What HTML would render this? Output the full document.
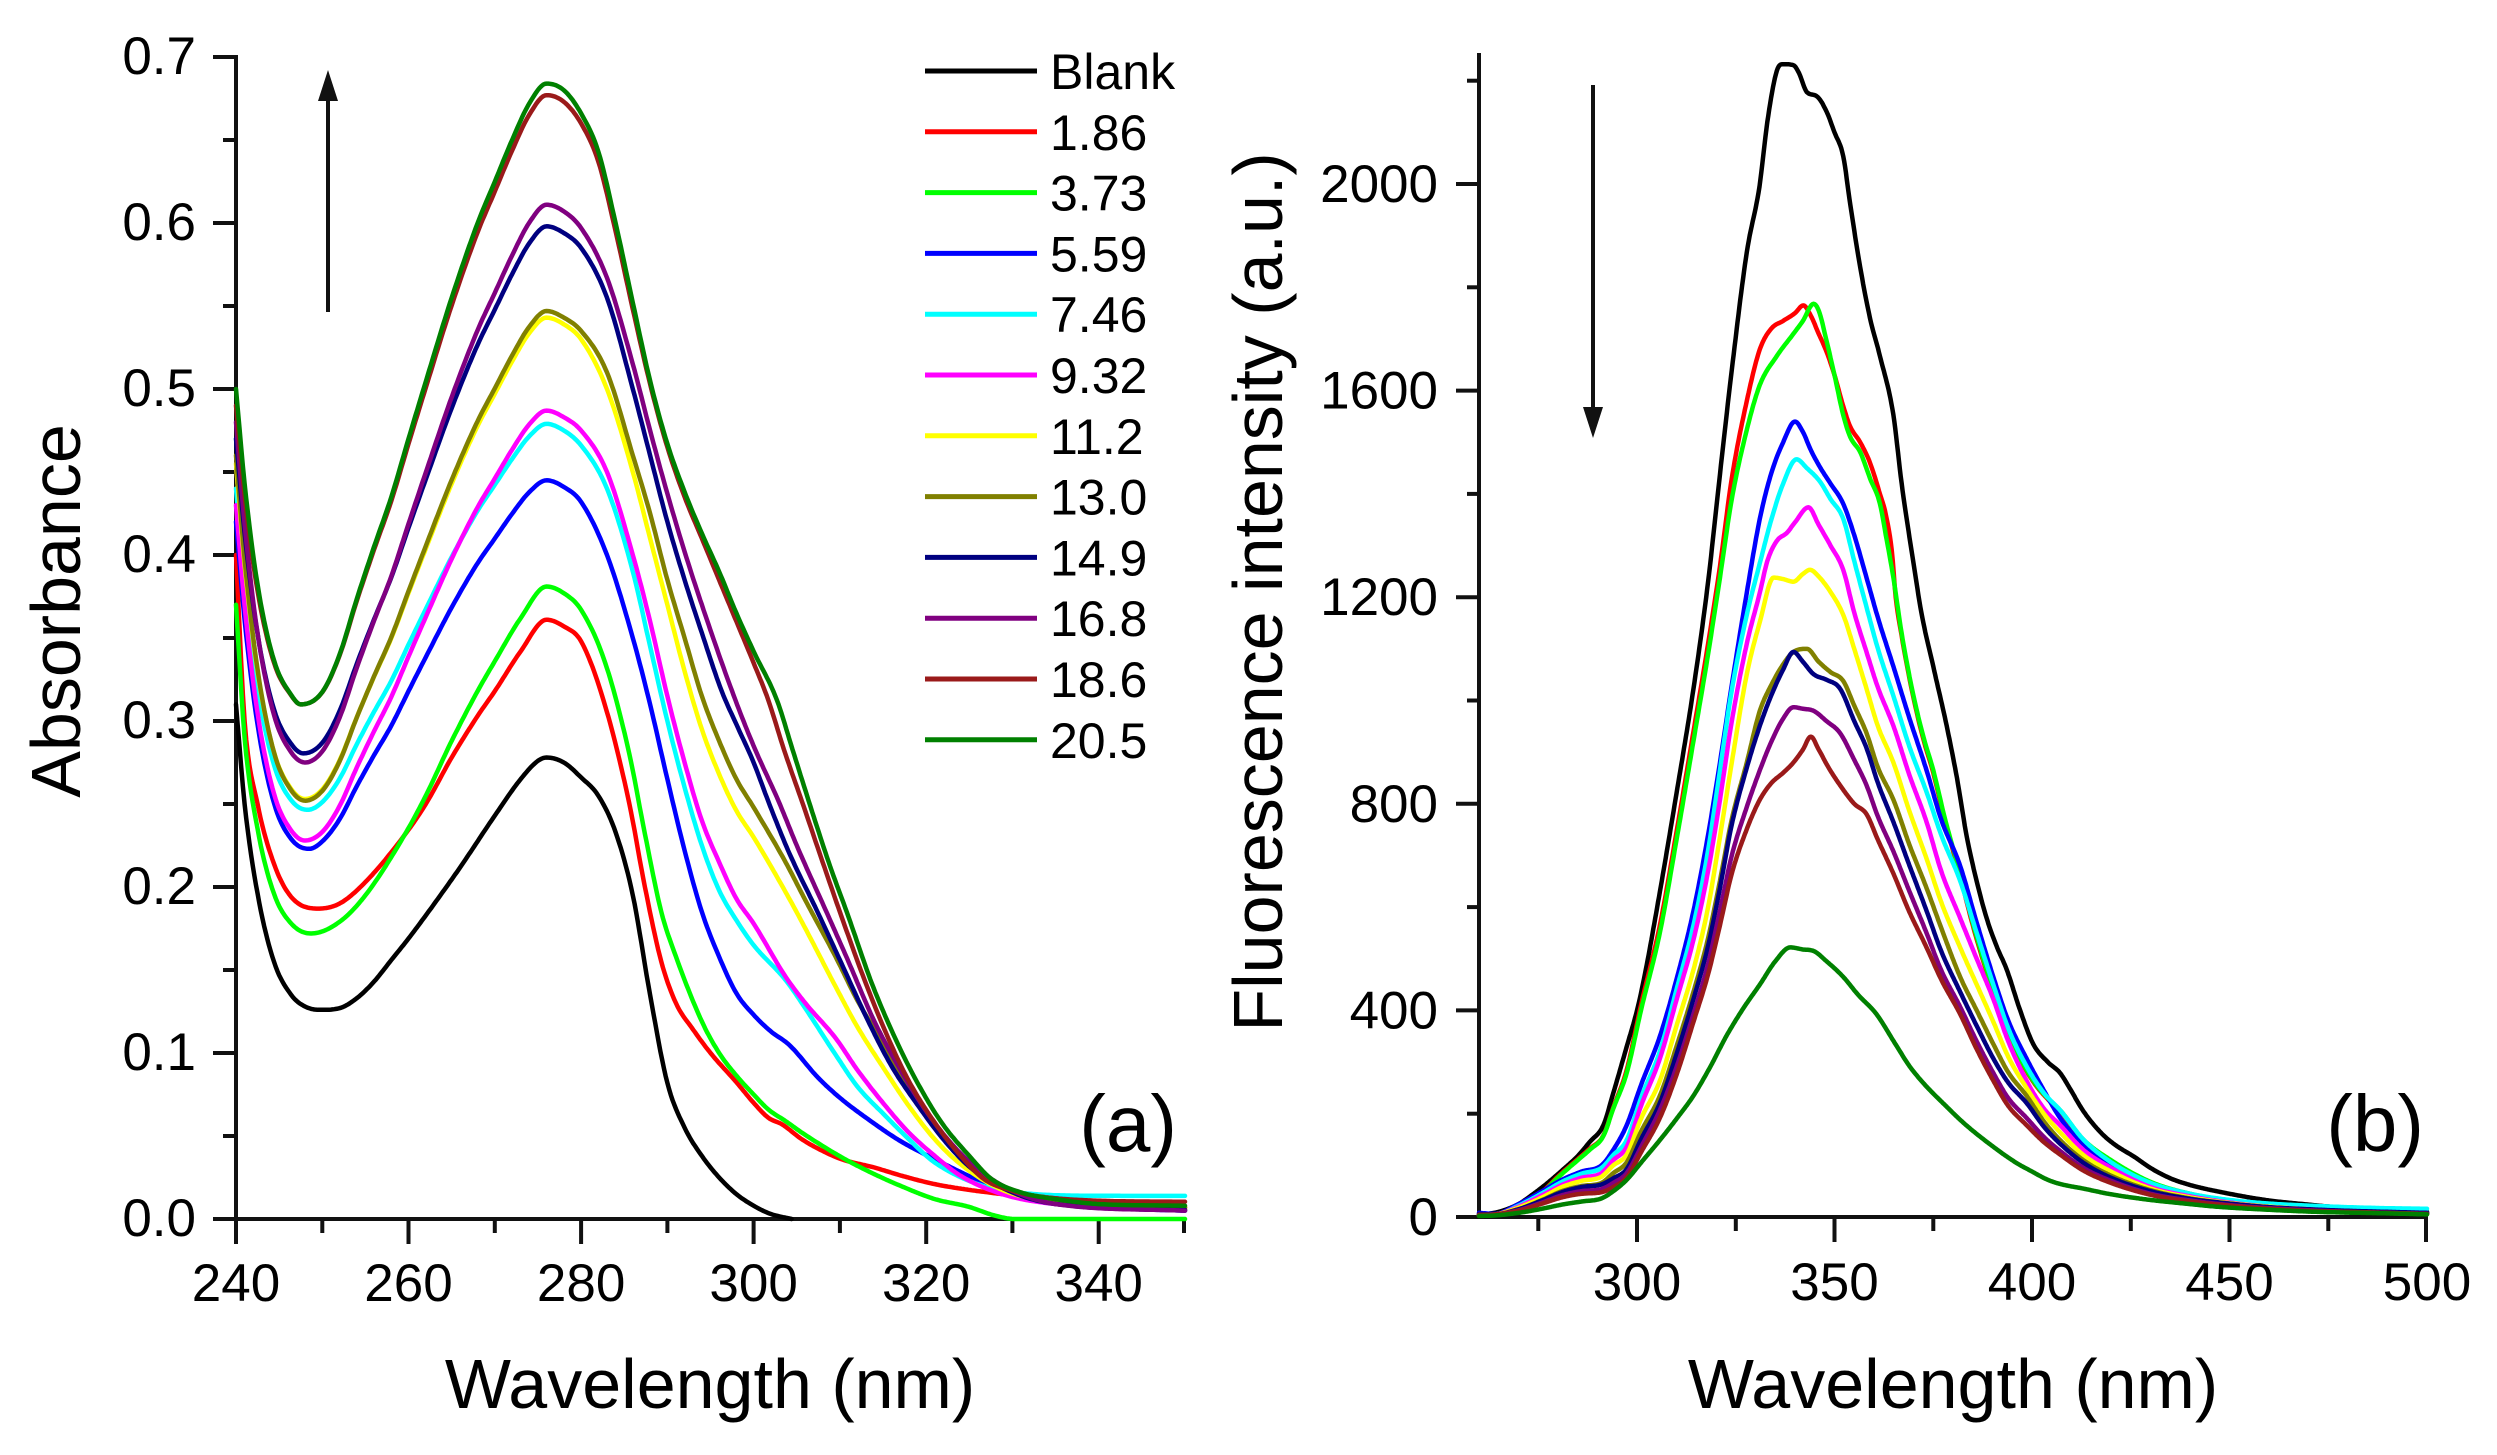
<!DOCTYPE html>
<html>
<head>
<meta charset="utf-8">
<style>
html,body{margin:0;padding:0;background:#fff;}
svg{display:block;}
text{font-family:"Liberation Sans",Arial,sans-serif;fill:#000;}
</style>
</head>
<body>
<svg id="s" width="2497" height="1455" viewBox="0 0 2497 1455" xmlns="http://www.w3.org/2000/svg">
<rect width="2497" height="1455" fill="#fff"/>

<!-- ===== Panel (a) axes ===== -->
<g stroke="#111" stroke-width="4" fill="none" stroke-linecap="butt">
  <line x1="236" y1="55" x2="236" y2="1221"/>
  <line x1="213" y1="1219" x2="1186" y2="1219"/>
  <!-- y major -->
  <line x1="213" y1="1053" x2="236" y2="1053"/>
  <line x1="213" y1="887" x2="236" y2="887"/>
  <line x1="213" y1="721" x2="236" y2="721"/>
  <line x1="213" y1="555" x2="236" y2="555"/>
  <line x1="213" y1="389" x2="236" y2="389"/>
  <line x1="213" y1="223" x2="236" y2="223"/>
  <line x1="213" y1="57" x2="236" y2="57"/>
  <!-- y minor -->
  <line x1="223" y1="1136" x2="236" y2="1136"/>
  <line x1="223" y1="970" x2="236" y2="970"/>
  <line x1="223" y1="804" x2="236" y2="804"/>
  <line x1="223" y1="638" x2="236" y2="638"/>
  <line x1="223" y1="472" x2="236" y2="472"/>
  <line x1="223" y1="306" x2="236" y2="306"/>
  <line x1="223" y1="140" x2="236" y2="140"/>
  <!-- x major -->
  <line x1="236" y1="1219" x2="236" y2="1244"/>
  <line x1="408.5" y1="1219" x2="408.5" y2="1244"/>
  <line x1="581.1" y1="1219" x2="581.1" y2="1244"/>
  <line x1="753.6" y1="1219" x2="753.6" y2="1244"/>
  <line x1="926.2" y1="1219" x2="926.2" y2="1244"/>
  <line x1="1098.7" y1="1219" x2="1098.7" y2="1244"/>
  <!-- x minor -->
  <line x1="322.3" y1="1219" x2="322.3" y2="1233"/>
  <line x1="494.8" y1="1219" x2="494.8" y2="1233"/>
  <line x1="667.4" y1="1219" x2="667.4" y2="1233"/>
  <line x1="839.9" y1="1219" x2="839.9" y2="1233"/>
  <line x1="1012.4" y1="1219" x2="1012.4" y2="1233"/>
  <line x1="1184" y1="1219" x2="1184" y2="1233"/>
</g>
<g font-size="53" text-anchor="end">
  <text x="196" y="1236">0.0</text>
  <text x="196" y="1070">0.1</text>
  <text x="196" y="904">0.2</text>
  <text x="196" y="738">0.3</text>
  <text x="196" y="572">0.4</text>
  <text x="196" y="406">0.5</text>
  <text x="196" y="240">0.6</text>
  <text x="196" y="74">0.7</text>
</g>
<g font-size="53" text-anchor="middle">
  <text x="236" y="1301">240</text>
  <text x="408.5" y="1301">260</text>
  <text x="581.1" y="1301">280</text>
  <text x="753.6" y="1301">300</text>
  <text x="926.2" y="1301">320</text>
  <text x="1098.7" y="1301">340</text>
</g>
<text x="710" y="1408" font-size="70" text-anchor="middle">Wavelength (nm)</text>
<text transform="translate(80,611) rotate(-90)" font-size="70" text-anchor="middle">Absorbance</text>
<text x="1177" y="1151" font-size="80" text-anchor="end">(a)</text>

<!-- up arrow -->
<line x1="328" y1="312" x2="328" y2="95" stroke="#111" stroke-width="4"/>
<polygon points="328,70 318,101 338,101" fill="#111"/>

<!-- legend -->
<g stroke-width="5" fill="none">
  <line x1="925" y1="71" x2="1037" y2="71" stroke="#000000"/>
  <line x1="925" y1="131.8" x2="1037" y2="131.8" stroke="#FF0000"/>
  <line x1="925" y1="192.6" x2="1037" y2="192.6" stroke="#00FF00"/>
  <line x1="925" y1="253.4" x2="1037" y2="253.4" stroke="#0000FF"/>
  <line x1="925" y1="314.2" x2="1037" y2="314.2" stroke="#00FFFF"/>
  <line x1="925" y1="375" x2="1037" y2="375" stroke="#FF00FF"/>
  <line x1="925" y1="435.8" x2="1037" y2="435.8" stroke="#FFFF00"/>
  <line x1="925" y1="496.6" x2="1037" y2="496.6" stroke="#808000"/>
  <line x1="925" y1="557.4" x2="1037" y2="557.4" stroke="#000080"/>
  <line x1="925" y1="618.2" x2="1037" y2="618.2" stroke="#800080"/>
  <line x1="925" y1="679" x2="1037" y2="679" stroke="#9A1A1A"/>
  <line x1="925" y1="739.8" x2="1037" y2="739.8" stroke="#008000"/>
</g>
<g font-size="50">
  <text x="1050" y="89">Blank</text>
  <text x="1050" y="149.8">1.86</text>
  <text x="1050" y="210.6">3.73</text>
  <text x="1050" y="271.4">5.59</text>
  <text x="1050" y="332.2">7.46</text>
  <text x="1050" y="393">9.32</text>
  <text x="1050" y="453.8">11.2</text>
  <text x="1050" y="514.6">13.0</text>
  <text x="1050" y="575.4">14.9</text>
  <text x="1050" y="636.2">16.8</text>
  <text x="1050" y="697">18.6</text>
  <text x="1050" y="757.8">20.5</text>
</g>

<g id="curvesA" fill="none" stroke-width="4.5" stroke-linejoin="round" stroke-linecap="round"></g>

<!-- ===== Panel (b) axes ===== -->
<g stroke="#111" stroke-width="4" fill="none">
  <line x1="1479" y1="53" x2="1479" y2="1219"/>
  <line x1="1456" y1="1217" x2="2428" y2="1217"/>
  <!-- y major -->
  <line x1="1456" y1="1010.4" x2="1479" y2="1010.4"/>
  <line x1="1456" y1="803.8" x2="1479" y2="803.8"/>
  <line x1="1456" y1="597.2" x2="1479" y2="597.2"/>
  <line x1="1456" y1="390.6" x2="1479" y2="390.6"/>
  <line x1="1456" y1="184" x2="1479" y2="184"/>
  <!-- y minor -->
  <line x1="1467" y1="1113.7" x2="1479" y2="1113.7"/>
  <line x1="1467" y1="907.1" x2="1479" y2="907.1"/>
  <line x1="1467" y1="700.5" x2="1479" y2="700.5"/>
  <line x1="1467" y1="493.9" x2="1479" y2="493.9"/>
  <line x1="1467" y1="287.3" x2="1479" y2="287.3"/>
  <line x1="1467" y1="80.7" x2="1479" y2="80.7"/>
  <!-- x major -->
  <line x1="1637" y1="1217" x2="1637" y2="1242"/>
  <line x1="1834.5" y1="1217" x2="1834.5" y2="1242"/>
  <line x1="2032" y1="1217" x2="2032" y2="1242"/>
  <line x1="2229.5" y1="1217" x2="2229.5" y2="1242"/>
  <line x1="2426" y1="1217" x2="2426" y2="1242"/>
  <!-- x minor -->
  <line x1="1538.3" y1="1217" x2="1538.3" y2="1231"/>
  <line x1="1735.8" y1="1217" x2="1735.8" y2="1231"/>
  <line x1="1933.3" y1="1217" x2="1933.3" y2="1231"/>
  <line x1="2130.8" y1="1217" x2="2130.8" y2="1231"/>
  <line x1="2328.3" y1="1217" x2="2328.3" y2="1231"/>
</g>
<g font-size="53" text-anchor="end">
  <text x="1438" y="1235">0</text>
  <text x="1438" y="1028.4">400</text>
  <text x="1438" y="821.8">800</text>
  <text x="1438" y="615.2">1200</text>
  <text x="1438" y="408.6">1600</text>
  <text x="1438" y="202">2000</text>
</g>
<g font-size="53" text-anchor="middle">
  <text x="1637" y="1300">300</text>
  <text x="1834.5" y="1300">350</text>
  <text x="2032" y="1300">400</text>
  <text x="2229.5" y="1300">450</text>
  <text x="2427" y="1300">500</text>
</g>
<text x="1953" y="1408" font-size="70" text-anchor="middle">Wavelength (nm)</text>
<text transform="translate(1282,592) rotate(-90)" font-size="70" text-anchor="middle">Fluorescence intensity (a.u.)</text>
<text x="2424" y="1151" font-size="80" text-anchor="end">(b)</text>

<!-- down arrow -->
<line x1="1593" y1="85" x2="1593" y2="412" stroke="#111" stroke-width="4"/>
<polygon points="1593,438 1583,407 1603,407" fill="#111"/>

<g id="curvesF" fill="none" stroke-width="4.5" stroke-linejoin="round" stroke-linecap="round"></g>
</svg>

<script>
(function(){
var NS="http://www.w3.org/2000/svg";
function mono(pts,step){
  var n=pts.length,xs=[],ys=[],d=[],m=[],i;
  for(i=0;i<n;i++){xs.push(pts[i][0]);ys.push(pts[i][1]);}
  for(i=0;i<n-1;i++){d[i]=(ys[i+1]-ys[i])/(xs[i+1]-xs[i]);}
  m[0]=d[0];m[n-1]=d[n-2];
  for(i=1;i<n-1;i++){m[i]=(d[i-1]*d[i]<=0)?0:(d[i-1]+d[i])/2;}
  for(i=0;i<n-1;i++){
    if(d[i]===0){m[i]=0;m[i+1]=0;}
    else{var a=m[i]/d[i],b=m[i+1]/d[i],s=a*a+b*b;
      if(s>9){var t=3/Math.sqrt(s);m[i]=t*a*d[i];m[i+1]=t*b*d[i];}}
  }
  var out=[];
  for(i=0;i<n-1;i++){
    var h=xs[i+1]-xs[i],k=Math.max(1,Math.ceil(h/step));
    for(var j=0;j<k;j++){
      var t=j/k,t2=t*t,t3=t2*t;
      var y=(2*t3-3*t2+1)*ys[i]+(t3-2*t2+t)*h*m[i]+(-2*t3+3*t2)*ys[i+1]+(t3-t2)*h*m[i+1];
      out.push([xs[i]+t*h,y]);
    }
  }
  out.push([xs[n-1],ys[n-1]]);
  return out;
}
function draw(gid,pts,color,X,Y,step){
  var s=mono(pts,step),dd="";
  for(var i=0;i<s.length;i++){dd+=(i?"L":"M")+X(s[i][0]).toFixed(1)+","+Y(s[i][1]).toFixed(1);}
  var p=document.createElementNS(NS,"path");
  p.setAttribute("d",dd);p.setAttribute("stroke",color);
  document.getElementById(gid).appendChild(p);
}
function ax(l){return 236+(l-240)*8.627;}
function ay(a){return 1219-a*1660;}
function fx(l){return 1479+(l-260)*3.95;}
function fy(v){return 1217-v*0.5165;}

var rise=[[250,.02],[252,.08],[254,.17],[256,.254],[258,.334],[260,.428],[262,.52],[265,.655],[268,.775],[270,.842],[272,.909],[274,.968]];
function build(start,lmin,amin,pk,fall){
  var dlt=start-amin;
  var p=[[240,start],[241,amin+.7*dlt],[242.5,amin+.38*dlt],[244.4,amin+.14*dlt]];
  if(lmin-246.4>0.8)p.push([246.4,amin+.03*dlt]);
  p.push([lmin,amin]);
  for(var i=0;i<rise.length;i++){if(rise[i][0]>=lmin+1.5)p.push([rise[i][0],amin+rise[i][1]*(pk-amin)]);}
  p.push([276,pk]);p.push([278,pk-0.004]);
  return p.concat(fall);
}

var A=[
 ["#000000",[[240,0.31],[241,0.25],[242.5,0.196],[244.4,0.155],[246.4,0.135],[248,0.128],[249.8,0.126],[252,0.127],[254,0.133],[256,0.143],[258,0.156],[260,0.169],[263,0.19],[266,0.212],[270,0.243],[273,0.265],[275,0.276],[276,0.278],[278,0.275],[280,0.266],[282,0.255],[284,0.233],[286,0.195],[288,0.135],[290,0.082],[292,0.055],[294,0.038],[296,0.025],[298,0.015],[300,0.008],[302,0.003],[304.4,0.0]]],
 ["#FF0000",[[240,0.40],[241,0.30],[242.5,0.25],[244.4,0.214],[246.4,0.194],[249.5,0.187],[252,0.19],[255,0.203],[259.5,0.231],[262,0.25],[265,0.278],[268,0.303],[270,0.318],[273,0.342],[276,0.361],[278,0.357],[280,0.348],[282.8,0.309],[285.6,0.25],[287.4,0.2],[289.3,0.155],[291,0.13],[293,0.114],[295,0.1],[297.9,0.083],[300,0.07],[301.7,0.061],[303.3,0.057],[305.6,0.048],[308,0.041],[310.2,0.036],[314,0.031],[317.2,0.026],[321,0.021],[324.9,0.0176],[328.8,0.015],[335,0.011],[340,0.009],[350,0.007]]],
 ["#00FF00",[[240,0.37],[241,0.29],[242.5,0.235],[244.4,0.196],[246.4,0.178],[248.7,0.172],[252,0.179],[255,0.195],[259.5,0.231],[262,0.255],[265,0.288],[268,0.318],[270,0.336],[273,0.362],[276,0.381],[278,0.377],[280,0.367],[282.8,0.335],[285.6,0.28],[287.4,0.232],[289.3,0.185],[291,0.158],[294,0.119],[296,0.1],[297.9,0.087],[300,0.075],[301.7,0.066],[303.7,0.059],[305.6,0.052],[308,0.044],[310.6,0.036],[314,0.027],[317.2,0.0196],[321,0.012],[324.9,0.0074],[328,0.002],[330.3,0.0],[350,0.0]]],
 ["#0000FF",build(0.42,248.5,0.223,0.445,[[280,0.432],[283,0.4],[286,0.35],[288,0.31],[290,0.265],[292,0.222],[294,0.185],[296,0.158],[298,0.136],[300,0.123],[302,0.113],[304.1,0.105],[307.5,0.085],[310,0.073],[313.3,0.06],[317,0.047],[321,0.036],[326.8,0.0217],[332.6,0.0114],[340,0.007],[350,0.005]])],
 ["#00FFFF",build(0.44,248.3,0.2465,0.479,[[280,0.466],[283,0.44],[286,0.39],[288,0.345],[290,0.3],[292,0.26],[294,0.225],[296,0.198],[298,0.18],[300,0.165],[303.7,0.144],[305.6,0.13],[309.5,0.099],[312,0.08],[315.3,0.062],[318,0.048],[321,0.034],[326.8,0.0196],[332.6,0.015],[340,0.014],[350,0.0139]])],
 ["#FF00FF",build(0.43,248,0.228,0.487,[[280,0.475],[283,0.45],[286,0.4],[288,0.36],[290,0.315],[292,0.275],[294,0.24],[296,0.215],[298,0.193],[300,0.178],[303.7,0.146],[306,0.13],[309.5,0.109],[312,0.09],[315.3,0.068],[318,0.052],[321,0.038],[324,0.026],[328.8,0.015],[335,0.009],[350,0.006]])],
 ["#FFFF00",build(0.455,248,0.253,0.543,[[280,0.53],[283,0.5],[286,0.45],[288,0.41],[290,0.37],[292,0.33],[294,0.295],[296,0.268],[298,0.246],[300,0.23],[303.7,0.197],[306,0.175],[309.5,0.14],[312,0.116],[315.3,0.089],[318,0.068],[321,0.048],[324,0.033],[328.8,0.0176],[335,0.01],[340,0.008],[350,0.006]])],
 ["#808000",build(0.46,248,0.252,0.547,[[280,0.535],[283,0.51],[286,0.46],[288,0.425],[290,0.385],[292,0.35],[294,0.315],[296,0.288],[298,0.265],[300,0.248],[303.7,0.215],[306,0.192],[309.5,0.158],[312,0.132],[315.3,0.103],[318,0.078],[321,0.056],[324,0.038],[328.8,0.0196],[335,0.011],[340,0.008],[350,0.007]])],
 ["#000080",build(0.47,247.8,0.2805,0.598,[[280,0.585],[283,0.555],[286,0.5],[288,0.46],[290,0.42],[292,0.385],[294,0.353],[296.3,0.318],[298,0.298],[300,0.275],[301.7,0.2516],[304,0.222],[307.5,0.184],[310,0.156],[313.3,0.119],[316,0.092],[319.1,0.068],[322,0.048],[324.9,0.032],[328,0.021],[332.6,0.0114],[340,0.007],[350,0.0055]])],
 ["#800080",build(0.48,248,0.275,0.611,[[280,0.597],[283,0.567],[286,0.515],[288,0.475],[290,0.437],[292,0.402],[294,0.37],[297.5,0.318],[300,0.285],[302.9,0.2516],[305,0.225],[308.7,0.182],[311,0.155],[314,0.119],[317,0.09],[320,0.065],[323,0.045],[326,0.03],[330,0.017],[335,0.009],[350,0.005]])],
 ["#9A1A1A",build(0.49,247.5,0.31,0.677,[[280,0.66],[282,0.637],[284,0.595],[286,0.548],[288,0.503],[290,0.465],[292,0.435],[294,0.41],[296,0.385],[298,0.36],[300,0.335],[301.7,0.3126],[303.5,0.283],[305.6,0.2516],[308,0.215],[310.2,0.182],[313,0.142],[315.6,0.109],[318,0.083],[321,0.058],[324,0.038],[326.8,0.0237],[330,0.017],[332.6,0.014],[340,0.011],[350,0.0104]])],
 ["#008000",build(0.50,247.5,0.31,0.684,[[280,0.666],[282,0.643],[284,0.6],[286,0.552],[288,0.505],[290,0.467],[292,0.438],[294,0.413],[296,0.39],[298,0.365],[300,0.342],[302.7,0.3126],[304.5,0.283],[306.4,0.2516],[308.7,0.215],[311,0.182],[313.7,0.142],[316.4,0.109],[319,0.082],[321.8,0.058],[325,0.038],[327.6,0.024],[331,0.016],[335,0.012],[340,0.009],[350,0.008]])]
];
for(var i=0;i<A.length;i++){draw("curvesA",A[i][1],A[i][0],ax,ay,0.2);}

var F=[
 ["#000000",[[260,5],[262,6],[265,10],[270,25],[274,46],[278,70],[281,90],[285,118],[288,145],[291.5,178],[294,240],[297.4,330],[300,400],[302,470],[305.8,630],[310,820],[314.3,1023],[318,1230],[321,1438],[324,1640],[327.8,1868],[331,1995],[333,2120],[335.4,2219],[337,2232],[339.6,2230],[341,2215],[343,2178],[345.5,2170],[348,2140],[350,2100],[352.2,2054],[354,1960],[356.5,1839],[359,1740],[361.5,1667],[364.9,1553],[367,1420],[370,1266],[372,1170],[375,1066],[378.4,951],[381,850],[383.5,736],[386,650],[388.5,579],[391,525],[393.6,479],[397,400],[400.3,335],[404,300],[407.1,279],[409.5,250],[413,205],[417.6,162],[421,140],[426,116],[430,95],[435,75],[440,62],[450,45],[460,32],[470,24],[480,17],[490,13],[500,10]]],
 ["#FF0000",[[260,3],[265,6],[270,20],[275,42],[280.5,82],[285,112],[288,132],[291.5,158],[294,212],[297.4,285],[301,410],[305.8,565],[310,745],[314.3,940],[318,1110],[321,1260],[324,1430],[327.8,1580],[331.1,1680],[334,1720],[337,1735],[340,1750],[342.1,1765],[344,1745],[346,1710],[348,1675],[350,1630],[352.2,1570],[354,1530],[356.5,1500],[359,1460],[361.5,1400],[363,1360],[364.5,1290],[365.5,1200],[367,1125],[370,1005],[372.5,925],[375,860],[378,765],[381.8,660],[385,565],[388.5,475],[392,398],[395.3,332],[400.3,262],[404,228],[407.1,205],[413,148],[420,108],[430,66],[440,44],[450,31],[460,23],[470,17],[480,13],[490,10],[500,8]]],
 ["#00FF00",[[260,3],[265,6],[270,18],[275,40],[280.5,80],[285,110],[288,130],[291.5,157],[294,210],[297.4,279],[301,400],[305.8,551],[310,730],[314.3,922],[318,1090],[321,1238],[324,1390],[327.8,1524],[331.1,1611],[335.4,1667],[339.6,1710],[342,1735],[344.7,1768],[346,1755],[348,1696],[350,1630],[352.2,1553],[354,1510],[356.5,1481],[359,1430],[361.5,1381],[363,1320],[364.9,1238],[367,1130],[370,1009],[372.5,930],[375,865],[378,770],[381.8,665],[385,570],[388.5,479],[392,400],[395.3,335],[400.3,264],[404,230],[407.1,207],[413,150],[420,110],[430,68],[440,45],[450,32],[460,24],[470,18],[480,14],[490,11],[500,8]]],
 ["#0000FF",[[260,8],[264,6],[270,25],[276,50],[281,72],[286,88],[291,100],[294,130],[297.4,178],[301,255],[305.8,350],[310,460],[314.3,593],[318,740],[321,880],[324,1030],[327.8,1209],[331.1,1352],[334,1440],[337,1500],[340,1540],[342,1520],[344,1485],[346.3,1452],[349,1420],[352.2,1381],[355,1320],[358.1,1238],[361,1160],[364.9,1066],[369,965],[373.3,865],[377,770],[381.8,680],[386,570],[390.2,465],[394,380],[398.6,307],[403,245],[407.1,192],[413,140],[420,100],[430,62],[440,42],[450,30],[460,22],[470,16],[480,12],[490,10],[500,8]]],
 ["#00FFFF",[[260,5],[264,5],[270,22],[276,46],[281,68],[286,84],[291,95],[294,120],[297.4,149],[301,230],[305.8,321],[310,440],[314.3,565],[318,710],[321,865],[324,1020],[327.8,1166],[331.1,1266],[334,1350],[337,1420],[340.4,1467],[343,1450],[346.3,1424],[349,1390],[352.2,1352],[355,1270],[358.1,1181],[361,1100],[364.9,1009],[369,910],[373.3,823],[377,740],[381.8,651],[386,550],[390.2,450],[394,365],[398.6,292],[403,240],[407.1,207],[413,150],[420,106],[430,66],[440,45],[450,33],[460,26],[470,22],[480,19],[490,17],[500,16]]],
 ["#FF00FF",[[260,4],[264,5],[270,20],[276,42],[281,62],[286,76],[291,85],[294,110],[297.4,136],[301,215],[305.8,307],[310,420],[314.3,537],[318,670],[321,808],[324,960],[327.8,1110],[331.1,1209],[333,1270],[335.4,1309],[338,1325],[340,1345],[343.4,1374],[346,1340],[349,1300],[352.2,1253],[355,1170],[358.1,1094],[361,1025],[364.9,951],[369,855],[373.3,765],[377,670],[381.8,579],[386,500],[390.2,422],[394,340],[398.6,264],[403,210],[407.1,178],[413,130],[420,95],[430,58],[440,40],[450,28],[460,20],[470,15],[480,11],[490,9],[500,7]]],
 ["#FFFF00",[[260,4],[264,5],[270,18],[276,38],[281,58],[286,70],[291,78],[294,100],[297.4,121],[301,190],[305.8,264],[310,370],[314.3,479],[318,600],[321,736],[324,880],[327.8,1051],[331.1,1152],[334.6,1238],[337,1235],[339.6,1230],[342,1245],[343.8,1253],[346,1240],[349,1210],[352.2,1166],[355,1100],[358.1,1023],[361,950],[364.9,880],[369,785],[373.3,694],[377,610],[381.8,522],[386,450],[390.2,378],[394,310],[398.6,250],[403,200],[407.1,164],[413,120],[420,88],[430,55],[440,38],[450,27],[460,20],[470,15],[480,11],[490,9],[500,7]]],
 ["#808000",[[260,4],[264,5],[270,15],[276,33],[281,50],[286,60],[291,66],[294,85],[297.4,106],[301,165],[305.8,235],[310,330],[314.3,436],[318,540],[321,651],[324,770],[327.8,880],[331.1,980],[334,1030],[337,1070],[339.6,1094],[343,1100],[346,1075],[349,1055],[352.2,1038],[355,990],[358.1,937],[361,870],[364.9,808],[369,720],[373.3,637],[377,560],[381.8,465],[386,400],[390.2,335],[394,280],[398.6,235],[403,185],[407.1,149],[413,110],[420,80],[430,52],[440,36],[450,26],[460,19],[470,14],[480,11],[490,9],[500,7]]],
 ["#000080",[[260,6],[264,5],[270,15],[276,32],[281,48],[286,58],[291,63],[294,75],[297.4,93],[301,150],[305.8,221],[310,315],[314.3,422],[318,525],[321,637],[324,760],[327.8,870],[331.1,951],[334,1010],[337,1060],[339.6,1094],[342,1075],[344.7,1051],[348,1040],[351.4,1023],[355,960],[358.1,908],[361,840],[364.9,765],[369,680],[373.3,593],[377,515],[381.8,436],[386,370],[390.2,307],[394,260],[398.6,221],[403,175],[407.1,142],[413,105],[420,76],[430,50],[440,35],[450,26],[460,19],[470,15],[480,12],[490,10],[500,8]]],
 ["#800080",[[260,4],[264,5],[270,13],[276,28],[281,42],[286,50],[291,54],[294,66],[297.4,85],[301,135],[305.8,207],[310,290],[314.3,393],[318,490],[321,593],[324,700],[327.8,794],[331.1,865],[334,920],[337,965],[339.6,987],[342,984],[344.7,980],[348,960],[351.4,937],[355,885],[358.1,836],[361,775],[364.9,708],[369,630],[373.3,550],[377,478],[381.8,407],[386,340],[390.2,279],[394,230],[398.6,192],[403,155],[407.1,128],[413,95],[420,70],[430,45],[440,32],[450,23],[460,17],[470,13],[480,10],[490,8],[500,6]]],
 ["#9A1A1A",[[260,4],[264,5],[270,12],[276,26],[281,38],[286,45],[291,48],[294,58],[297.4,77],[301,125],[305.8,192],[310,275],[314.3,378],[318,470],[321,565],[324,665],[327.8,751],[331.1,808],[334,840],[337,860],[339.6,880],[342,905],[344,930],[346,905],[348.5,870],[351.4,836],[355,800],[358.1,780],[361,730],[364.9,665],[369,590],[373.3,522],[377,460],[381.8,393],[386,325],[390.2,264],[394,215],[398.6,178],[403,145],[407.1,121],[413,90],[420,66],[430,43],[440,30],[450,22],[460,16],[470,12],[480,10],[490,8],[500,6]]],
 ["#008000",[[260,2],[264,3],[270,8],[276,16],[281,24],[286,30],[291,36],[294,50],[297.4,72],[301,105],[305.8,149],[310,190],[314.3,235],[318.5,290],[322.6,350],[327,405],[331.1,450],[335,495],[338.8,522],[342,518],[344.7,515],[348,495],[352.2,465],[356,430],[360.6,393],[365,340],[369,292],[373,255],[377.4,221],[383,180],[390.2,136],[396,105],[400,88],[404,72],[407.1,64],[413,55],[420,44],[430,33],[440,25],[446.7,20],[460,14],[472,10],[490,7],[500,5]]]
];
for(var j=0;j<F.length;j++){draw("curvesF",F[j][1],F[j][0],fx,fy,0.25);}
})();
</script>
</body>
</html>
